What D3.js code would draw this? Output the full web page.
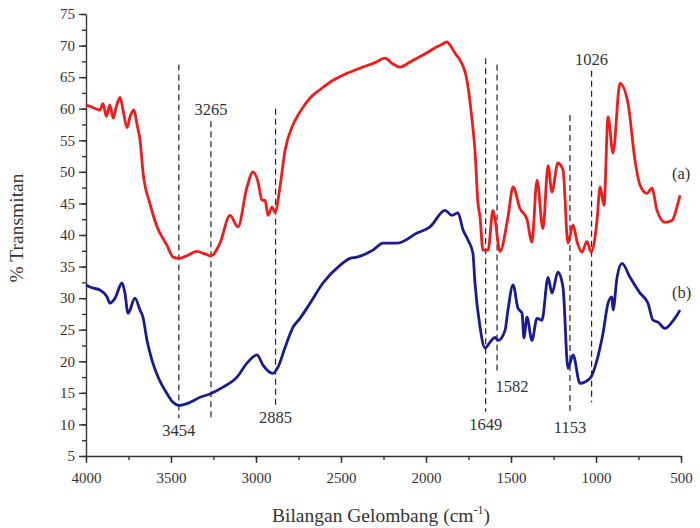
<!DOCTYPE html>
<html>
<head>
<meta charset="utf-8">
<script src="https://cdn.jsdelivr.net/npm/d3@7"></script>
<style>
  body { margin: 0; background: #fff; }
  svg text { font-family: "Times New Roman", "Liberation Serif", serif; fill: #333; }
</style>
</head>
<body>
<svg id="canvas" width="700" height="528"></svg>
<script>
// spectrum (a) - wavenumber / % transmitan
let waveA = [4000,3960,3918,3900,3880,3860,3840,3820,3800,3780,3759,3740,3718,3700,3682,3664,3624,3582,3524,3488,3453,3400,3347,3300,3265,3212,3153,3106,3053,3017,2988,2965,2947,2929,2906,2888,2859,2829,2788,2741,2682,2624,2547,2465,2371,2300,2241,2200,2153,2094,2018,1935,1900,1876,1859,1829,1800,1759,1729,1712,1694,1682,1665,1635,1606,1594,1565,1518,1488,1447,1406,1377,1347,1312,1282,1259,1224,1194,1165,1135,1112,1082,1053,1029,994,976,953,929,900,859,812,771,741,700,671,641,594,553,524,506]
let transA = [60.6,60.2,59.8,60.8,58.8,60.6,58.5,60.5,61.8,59.5,57.0,58.8,59.8,57.5,55.0,49.8,45.0,41.3,38.4,36.5,36.3,36.8,37.4,37.0,36.7,38.7,43.1,41.3,47.6,50.0,48.4,45.5,45.5,43.1,44.4,43.6,47.6,53.4,57.1,59.5,61.7,63.0,64.5,65.6,66.6,67.3,68.0,67.2,66.6,67.4,68.5,69.8,70.3,70.6,70.1,68.8,67.7,64.5,58.2,53.4,45.0,42.8,37.6,37.6,43.9,42.5,37.4,42.8,47.6,44.2,42.5,38.9,48.7,41.0,51.0,46.8,51.4,50.3,38.7,41.6,39.0,37.3,39.0,37.3,42.3,47.6,44.7,58.7,53.0,64.0,60.9,51.9,47.9,46.6,47.4,43.9,42.0,42.3,44.4,46.3]

// spectrum (b)
let waveB = [4000,3960,3918,3876,3859,3829,3788,3771,3753,3712,3682,3665,3641,3612,3576,3524,3488,3453,3406,3329,3265,3194,3112,3053,2994,2959,2900,2870,2829,2782,2741,2682,2606,2506,2447,2406,2312,2253,2171,2053,1976,1888,1847,1812,1782,1753,1724,1712,1682,1653,1624,1594,1576,1535,1518,1488,1459,1435,1424,1406,1377,1347,1318,1282,1259,1224,1194,1165,1135,1094,1035,994,959,929,906,900,876,847,800,741,694,665,635,594,553,524,506]
let transB = [32.1,31.6,31.3,30.2,29.2,30.0,32.4,30.8,27.6,30.0,28.1,27.0,23.3,20.2,17.5,14.9,13.5,13.0,13.3,14.3,14.9,15.9,17.5,19.7,21.0,19.4,18.1,19.1,22.2,25.4,26.8,29.2,32.4,35.2,36.3,36.5,37.6,38.7,38.7,40.3,41.3,43.9,43.1,43.5,40.8,39.2,37.1,32.4,25.4,22.1,23.0,23.8,23.3,24.9,28.1,32.1,28.4,27.6,23.7,27.0,23.3,26.8,26.5,33.3,30.8,34.1,31.7,18.9,21.0,16.5,17.3,20.2,24.4,29.2,30.2,28.1,33.3,35.5,33.3,30.8,29.2,26.5,26.2,25.2,26.2,27.3,28.1]

// marked peaks
let peakWave = [3454,3265,2885,1649,1582,1153,1026]
let peakTop = [67,58,60,68,67,59,66]
let peakBottom = [11,11,13,12,18,11.5,13.5]
let peakLabel = ['3454','3265','2885','1649','1582','1153','1026']
let labelAt = ['bottom','top','bottom','bottom','bottom','bottom','top']

let xTicks = [4000,3500,3000,2500,2000,1500,1000,500]
let yTicks = [5,10,15,20,25,30,35,40,45,50,55,60,65,70,75]

let svg = d3.select('#canvas')
let margin = {left: 86, right: 19, top: 14, bottom: 72}
let width = 700, height = 528

let x = d3.scaleLinear().domain([4000, 500]).range([margin.left, width - margin.right])
let y = d3.scaleLinear().domain([5, 75]).range([height - margin.bottom, margin.top])

// minor ticks
let xMinor = d3.range(4000, 499, -250)
let yMinor = d3.range(5, 75.1, 2.5)

svg.append('g')
  .attr('transform', `translate(0,${y(5)})`)
  .call(d3.axisBottom(x).tickValues(xMinor).tickSize(4).tickFormat(''))
  .call(g => g.select('.domain').remove())
svg.append('g')
  .attr('transform', `translate(${x(4000)},0)`)
  .call(d3.axisLeft(y).tickValues(yMinor).tickSize(4).tickFormat(''))
  .call(g => g.select('.domain').remove())

let xAxis = svg.append('g')
  .attr('transform', `translate(0,${y(5)})`)
  .call(d3.axisBottom(x).tickValues(xTicks).tickSize(7).tickSizeOuter(0).tickPadding(9).tickFormat(d3.format('d')))
let yAxis = svg.append('g')
  .attr('transform', `translate(${x(4000)},0)`)
  .call(d3.axisLeft(y).tickValues(yTicks).tickSize(7).tickSizeOuter(0).tickPadding(4))

svg.selectAll('.tick line, .domain').attr('stroke', '#333').attr('stroke-width', 1.4)
svg.selectAll('.tick text').attr('font-size', 15).attr('fill', '#333')

// peak markers
let peaks = peakWave.map((w, i) => ({w: w, top: peakTop[i], bottom: peakBottom[i], label: peakLabel[i], at: labelAt[i]}))
svg.selectAll('line.peak')
  .data(peaks)
  .enter()
  .append('line')
  .attr('class', 'peak')
  .attr('x1', d => x(d.w)).attr('x2', d => x(d.w))
  .attr('y1', d => y(d.top)).attr('y2', d => y(d.bottom))
  .attr('stroke', '#222')
  .attr('stroke-width', 1.2)
  .attr('stroke-dasharray', '6,4')

// curves
let line = d3.line().x(d => x(d[0])).y(d => y(d[1])).curve(d3.curveMonotoneX)
svg.append('path')
  .datum(waveA.map((w, i) => [w, transA[i]]))
  .attr('d', line)
  .attr('fill', 'none')
  .attr('stroke', '#f41a1a')
  .attr('stroke-width', 2.8)
  .attr('stroke-linejoin', 'round')
svg.append('path')
  .datum(waveB.map((w, i) => [w, transB[i]]))
  .attr('d', line)
  .attr('fill', 'none')
  .attr('stroke', '#1a1a96')
  .attr('stroke-width', 2.8)
  .attr('stroke-linejoin', 'round')

svg.selectAll('text.peak')
  .data(peaks)
  .enter()
  .append('text')
  .attr('class', 'peak')
  .attr('x', d => d.label === '1582' ? x(d.w) + 15 : x(d.w))
  .attr('y', d => d.at === 'top' ? y(d.top) - 6 : y(d.bottom) + 18)
  .attr('text-anchor', 'middle')
  .attr('font-size', 16.5)
  .text(d => d.label)

// series labels
svg.append('text').attr('x', 672).attr('y', 179).attr('font-size', 16.5).text('(a)')
svg.append('text').attr('x', 672).attr('y', 298).attr('font-size', 16.5).text('(b)')

// axis titles
let xTitle = svg.append('text')
  .attr('x', 381).attr('y', 522)
  .attr('text-anchor', 'middle')
  .attr('font-size', 19.5)
xTitle.append('tspan').text('Bilangan Gelombang (cm')
xTitle.append('tspan').attr('font-size', 12).attr('dy', -8).text('-1')
xTitle.append('tspan').attr('dy', 8).text(')')

svg.append('text')
  .attr('transform', 'translate(23,228) rotate(-90)')
  .attr('text-anchor', 'middle')
  .attr('font-size', 19.5)
  .text('% Transmitan')
</script>
</body>
</html>
